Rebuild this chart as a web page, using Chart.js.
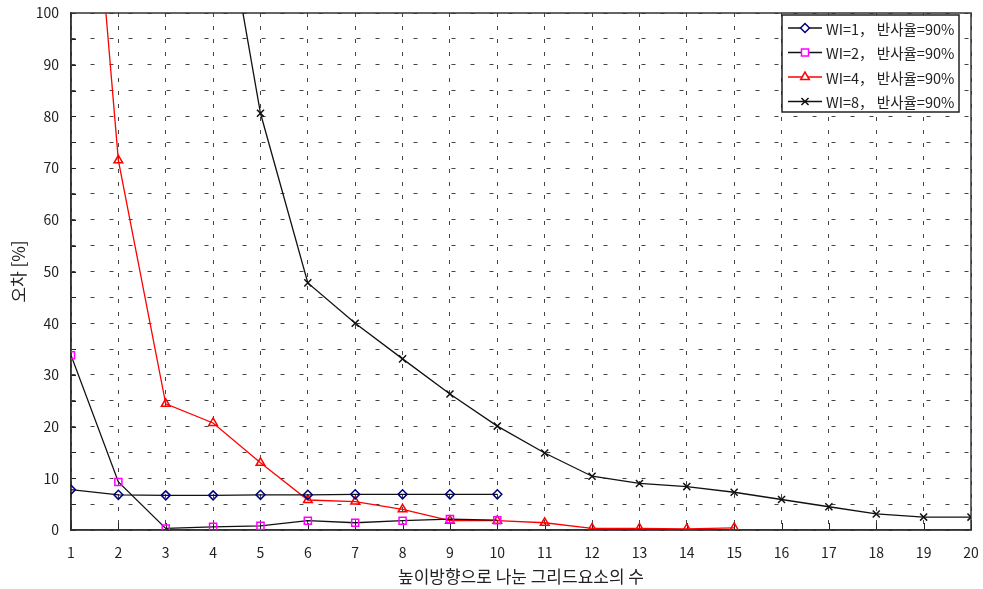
<!DOCTYPE html>
<html lang="ko">
<head>
    <meta charset="UTF-8">
    <title>오차 그래프</title>
    <script src="https://cdn.jsdelivr.net/npm/chart.js"></script>
    <style>
        body { margin: 0; background: #fff; }
        #wrap { width: 983px; height: 589px; position: relative; }
    </style>
</head>
<body>
    <div id="wrap"><canvas id="errChart"></canvas></div>

    <script>
        // data
        const xValues = [1, 2, 3, 4, 5, 6, 7, 8, 9, 10, 11, 12, 13, 14, 15, 16, 17, 18, 19, 20];
        const seriesLabels = ['WI=1， 반사율=90%', 'WI=2， 반사율=90%', 'WI=4， 반사율=90%', 'WI=8， 반사율=90%'];
        const wi1 = [7.8, 6.8, 6.7, 6.7, 6.8, 6.8, 6.9, 6.9, 6.9, 6.9];
        const wi2 = [33.8, 9.3, 0.3, 0.6, 0.8, 1.8, 1.4, 1.8, 2.1, 1.9];
        const wi4 = [180, 71.5, 24.4, 20.7, 13.0, 5.8, 5.5, 4.0, 1.8, 1.8, 1.4, 0.3, 0.3, 0.2, 0.4];
        const wi8 = [null, null, null, 133, 80.6, 47.8, 40.0, 33.1, 26.3, 20.1, 14.9, 10.4, 9.0, 8.4, 7.3, 5.9, 4.5, 3.1, 2.5, 2.5];
        const yTicks = [0, 10, 20, 30, 40, 50, 60, 70, 80, 90, 100];

        const FONT = "'Noto Sans CJK KR', 'DejaVu Sans', sans-serif";

        function toPoints(values) {
            return values.map(function (v, i) { return { x: xValues[i], y: v }; });
        }

        // solid frame + short inside ticks, like the original
        const framePlugin = {
            id: 'frame',
            beforeDatasetsDraw(chart) {
                const { ctx, chartArea: a, scales } = chart;
                ctx.save();
                ctx.strokeStyle = '#222';
                ctx.lineWidth = 1;
                ctx.beginPath();
                xValues.forEach(function (v) {
                    const px = Math.round(scales.x.getPixelForValue(v)) + 0.5;
                    ctx.moveTo(px, a.bottom);
                    ctx.lineTo(px, a.bottom - 7);
                });
                for (let v = 0; v <= 100; v += 5) {
                    const py = Math.round(scales.y.getPixelForValue(v)) + 0.5;
                    ctx.moveTo(a.left, py);
                    ctx.lineTo(a.left + 5, py);
                }
                ctx.stroke();
                ctx.lineWidth = 1.5;
                ctx.strokeStyle = '#333';
                ctx.strokeRect(a.left, a.top, a.right - a.left, a.bottom - a.top);
                ctx.restore();
            }
        };

        // legend box drawn inside the plot, line sample + marker
        const legendPlugin = {
            id: 'boxLegend',
            afterDraw(chart) {
                const ctx = chart.ctx;
                const a = chart.chartArea;
                const bx = a.right - 189, by = a.top + 2, bw = 177, bh = 97;
                ctx.save();
                ctx.fillStyle = '#fff';
                ctx.fillRect(bx, by, bw, bh);
                ctx.strokeStyle = '#222';
                ctx.lineWidth = 1.5;
                ctx.strokeRect(bx, by, bw, bh);
                chart.data.datasets.forEach(function (ds, i) {
                    const cy = by + 13 + i * 24.5;
                    ctx.strokeStyle = ds.borderColor;
                    ctx.lineWidth = 1.5;
                    ctx.beginPath();
                    ctx.moveTo(bx + 6, cy);
                    ctx.lineTo(bx + 40, cy);
                    ctx.stroke();
                    ctx.strokeStyle = ds.pointBorderColor;
                    ctx.fillStyle = '#fff';
                    ctx.lineWidth = ds.pointBorderWidth;
                    Chart.helpers.drawPoint(ctx, {
                        pointStyle: ds.pointStyle,
                        radius: ds.pointRadius,
                        borderWidth: ds.pointBorderWidth
                    }, bx + 23, cy);
                    ctx.fillStyle = '#222';
                    ctx.font = '14.5px ' + FONT;
                    ctx.textBaseline = 'middle';
                    ctx.fillText(ds.label, bx + 44, cy + 1);
                });
                ctx.restore();
            }
        };

        const ctx = document.getElementById('errChart').getContext('2d');
        new Chart(ctx, {
            type: 'line',
            data: {
                datasets: [{
                    label: seriesLabels[0],
                    data: toPoints(wi1),
                    borderColor: '#111',
                    borderWidth: 1.3,
                    pointStyle: 'rectRot',
                    pointRadius: 4.5,
                    pointBorderColor: '#000080',
                    pointBackgroundColor: 'rgba(255,255,255,0)',
                    pointBorderWidth: 1.5
                }, {
                    label: seriesLabels[1],
                    data: toPoints(wi2),
                    borderColor: '#111',
                    borderWidth: 1.3,
                    pointStyle: 'rect',
                    pointRadius: 5,
                    pointBorderColor: '#ff00ff',
                    pointBackgroundColor: 'rgba(255,255,255,0)',
                    pointBorderWidth: 1.5
                }, {
                    label: seriesLabels[2],
                    data: toPoints(wi4),
                    borderColor: '#ff0000',
                    borderWidth: 1.3,
                    pointStyle: 'triangle',
                    pointRadius: 5,
                    pointBorderColor: '#ff0000',
                    pointBackgroundColor: 'rgba(255,255,255,0)',
                    pointBorderWidth: 1.5
                }, {
                    label: seriesLabels[3],
                    data: toPoints(wi8),
                    borderColor: '#111',
                    borderWidth: 1.3,
                    pointStyle: 'crossRot',
                    pointRadius: 5,
                    pointBorderColor: '#111',
                    pointBackgroundColor: '#111',
                    pointBorderWidth: 1.5
                }]
            },
            options: {
                responsive: true,
                maintainAspectRatio: false,
                animation: false,
                layout: { padding: { top: 13, right: 12, left: 0, bottom: 0 } },
                plugins: {
                    legend: { display: false },
                    tooltip: { enabled: false }
                },
                scales: {
                    x: {
                        type: 'linear',
                        min: 1,
                        max: 20,
                        afterFit: function (scale) {
                            scale.height = 59;
                            scale.paddingLeft = 0;
                            scale.paddingRight = 0;
                        },
                        ticks: {
                            stepSize: 1,
                            padding: 14,
                            color: '#222',
                            font: { family: FONT, size: 14 }
                        },
                        grid: {
                            color: '#444',
                            lineWidth: 1,
                            drawTicks: false
                        },
                        border: { display: true, color: '#333', width: 1.5, dash: [4, 9] },
                        title: {
                            display: true,
                            text: '높이방향으로 나눈 그리드요소의 수',
                            color: '#222',
                            font: { family: FONT, size: 17 },
                            padding: { top: 6, bottom: 2 }
                        }
                    },
                    y: {
                        min: 0,
                        max: 100,
                        afterFit: function (scale) {
                            scale.width = 71;
                            scale.paddingTop = 0;
                            scale.paddingBottom = 0;
                        },
                        ticks: {
                            stepSize: 5,
                            padding: 12,
                            color: '#222',
                            font: { family: FONT, size: 14 },
                            callback: function (v) { return yTicks.includes(v) ? v : ''; }
                        },
                        grid: {
                            color: '#444',
                            lineWidth: 1,
                            drawTicks: false
                        },
                        border: { display: true, color: '#333', width: 1.5, dash: [4, 15] },
                        title: {
                            display: true,
                            text: '오차 [%]',
                            color: '#222',
                            font: { family: FONT, size: 17 },
                            padding: { top: 8, bottom: 8 }
                        }
                    }
                }
            },
            plugins: [framePlugin, legendPlugin]
        });
    </script>
</body>
</html>
